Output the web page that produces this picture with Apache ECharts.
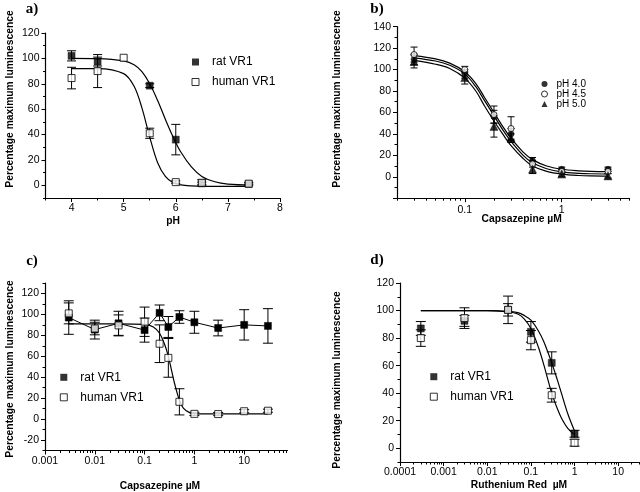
<!DOCTYPE html>
<html><head><meta charset="utf-8">
<script src="https://cdn.jsdelivr.net/npm/echarts@6/dist/echarts.min.js"></script>
<style>html,body{margin:0;padding:0;background:#fff}#chart{width:640px;height:492px}</style>
</head><body><div id="chart"></div>
<script>
// ---------- Panel a (pH) ----------
const aPh = [4, 4.5, 5, 5.5, 6, 6.5, 7.4];
const aRat = [102, 97.5, null, 78.5, 36, 1.5, 1];
const aRatErr = [4, 3.5, null, 1.5, 12, 1, 0.8];
const aHuman = [84.5, 90, 100.5, 41, 2.5, 2, 1.3];
const aHumanErr = [8.5, 13, 0, 4, 1, 2.5, 1];
const aFitPh = [4.0, 4.5, 5.0, 5.2, 5.35, 5.5, 5.65, 5.8, 5.95, 6.1, 6.3, 6.5, 6.75, 7.0, 7.45];
const aRatFit = [100, 99.8, 98, 95, 89.5, 80, 67, 52, 38, 26, 14.5, 7, 2.8, 1, 0.2];
const aHumanFit = [92, 92, 88, 78, 61, 38, 18, 7, 2, 0.3, -0.5, -0.8, -0.8, -0.8, -0.8];
const aXTicks = [4, 5, 6, 7, 8];
const aYTicks = [0, 20, 40, 60, 80, 100, 120];

// ---------- Panel b (capsazepine at three pH) ----------
const bConc = [0.03, 0.1, 0.2, 0.3, 0.5, 1, 3];
const bPh40 = [109.5, 96, 56, 40, 15, 7, 7];
const bPh40Err = [5, 4, 6, 5, 3, 2, 2];
const bPh45 = [114, 100, 58, 45, 12, 5, 5];
const bPh45Err = [7, 3, 8, 11, 3, 2, 2];
const bPh50 = [107.5, 92.5, 47, 36, 7, 2.5, 0.8];
const bPh50Err = [6, 6, 10, 4, 4, 2, 2];
const bFitConc = [0.03, 0.05, 0.07, 0.1, 0.13, 0.16, 0.2, 0.25, 0.3, 0.4, 0.5, 0.7, 1, 1.5, 2, 3];
const bFitTop = [113, 110, 106, 98, 87, 74, 60, 46, 36, 23, 16, 10, 7, 5.5, 5, 4.8];
const bFitMid = [111, 108, 104, 96, 84, 71, 57, 43, 33, 20, 13, 7.5, 4.5, 3.2, 2.8, 2.6];
const bFitLow = [108.5, 105, 101, 92, 80, 66, 52, 39, 29, 17, 10, 5, 2.5, 1.2, 0.8, 0.6];
const bXTickVals = [0.1, 1];
const bXTickLabels = ['0.1', '1'];
const bYTicks = [0, 20, 40, 60, 80, 100, 120, 140];

// ---------- Panel c (capsazepine, rat vs human) ----------
const cConc = [0.003, 0.01, 0.03, 0.1, 0.2, 0.3, 0.5, 1, 3, 10, 30];
const cRat = [97, 85.5, 91.5, 85, 101.5, 88, 97.5, 92.5, 87, 90, 89];
const cRatErr = [16, 9, 11.5, 11.5, 7.5, 10, 6, 10.5, 7.5, 14.5, 16.5];
const cHuman = [101, 86.5, 89.5, 93, 72, 58.5, 16.5, 5, 4.8, 7.5, 8];
const cHumanErr = [10, 6, 10, 14, 18, 18.5, 12.5, 1.5, 1.5, 1.5, 1.5];
const cFitConc = [0.003, 0.01, 0.03, 0.1, 0.15, 0.2, 0.25, 0.3, 0.35, 0.4, 0.5, 0.6, 0.8, 1, 2, 3, 10, 30];
const cHumanFit = [91, 91, 91, 90.5, 88, 82, 72, 60, 46, 34, 18, 10.5, 6.2, 5.3, 5, 5, 5, 5];
const cXTickVals = [0.001, 0.01, 0.1, 1, 10];
const cXTickLabels = ['0.001', '0.01', '0.1', '1', '10'];
const cYTicks = [-20, 0, 20, 40, 60, 80, 100, 120];

// ---------- Panel d (ruthenium red) ----------
const dConc = [0.0003, 0.003, 0.03, 0.1, 0.3, 1];
const dRat = [87, 92.5, 100.5, 84.5, 62, 10.5];
const dRatErr = [5, 4, 4.5, 7.5, 8, 2.5];
const dHuman = [80, 94.5, 100.5, 78.5, 38.5, 4];
const dHumanErr = [6, 7.5, 10, 7, 5, 2.5];
const dFitConc = [0.0003, 0.001, 0.003, 0.01, 0.03, 0.05, 0.07, 0.1, 0.15, 0.2, 0.3, 0.4, 0.5, 0.7, 1];
const dRatFit = [100, 100, 100, 100, 99.5, 98.5, 96.5, 93, 85, 77, 62, 50, 40, 25, 12.5];
const dHumanFit = [100, 100, 100, 100, 99, 97.5, 94, 87, 73, 60, 40, 29, 22, 14.5, 10];
const dXTickVals = [0.0001, 0.001, 0.01, 0.1, 1, 10];
const dXTickLabels = ['0.0001', '0.001', '0.01', '0.1', '1', '10'];
const dYTicks = [0, 20, 40, 60, 80, 100, 120];

// ---------- build ----------
const FONT = '"Liberation Sans", Arial, Helvetica, sans-serif';
const SERIF = '"Liberation Serif", "Times New Roman", serif';
const lg = Math.log10;
const grids = [], xAxes = [], yAxes = [], series = [], legends = [], graphics = [];

function range(lo, hi, step) { const o = []; for (let v = lo; v <= hi + 1e-9; v += step) o.push(+v.toFixed(6)); return o; }
function logMinor(lo, hi) {
  const out = [];
  for (let k = Math.floor(lo); k <= Math.ceil(hi); k++) {
    for (let m = 2; m <= 9; m++) { const v = k + lg(m); if (v >= lo - 1e-9 && v <= hi + 1e-9) out.push(v); }
  }
  return out;
}
function logFmt(vals, labels) {
  const lv = vals.map(lg);
  return function (v) { let bi = 0; lv.forEach((x, i) => { if (Math.abs(x - v) < Math.abs(lv[bi] - v)) bi = i; }); return labels[bi]; };
}
function addAxes(gi, arr, pos, cfg) {
  const common = { gridIndex: gi, type: 'value', min: cfg.min, max: cfg.max, position: pos, splitLine: { show: false }, minorTick: { show: false } };
  arr.push(Object.assign({}, common, {
    axisLine: { show: true, onZero: false, lineStyle: { color: '#000', width: 1.2 } },
    axisTick: { show: true, inside: false, length: 4, customValues: cfg.major, lineStyle: { color: '#000', width: 1 } },
    axisLabel: { show: true, customValues: cfg.labels, formatter: cfg.fmt, color: '#000', fontSize: 10.5, fontFamily: FONT, margin: cfg.margin }
  }));
  arr.push(Object.assign({}, common, {
    axisLine: { show: false, onZero: false },
    axisTick: { show: true, inside: false, length: 2.5, customValues: cfg.minor, lineStyle: { color: '#000', width: 1 } },
    axisLabel: { show: false }
  }));
}
function panel(p, rect, xc, yc) {
  grids.push({ left: rect[0], top: rect[1], width: rect[2], height: rect[3], containLabel: false, outerBoundsMode: 'none' });
  addAxes(p, xAxes, 'bottom', xc);
  addAxes(p, yAxes, 'left', yc);
}
function errSeries(p, xs, ys, es, capW, tx) {
  const data = [];
  xs.forEach((x, i) => { if (ys[i] != null && es[i]) data.push([tx(x), ys[i] - es[i], ys[i] + es[i]]); });
  series.push({
    type: 'custom', xAxisIndex: 2 * p, yAxisIndex: 2 * p, z: 1, silent: true,
    dimensions: ['x', 'lo', 'hi'], encode: { x: 0, y: [1, 2] }, data,
    renderItem: function (params, api) {
      const x = api.value(0), lo = api.value(1), hi = api.value(2);
      const a = api.coord([x, hi]), b = api.coord([x, lo]), h = capW / 2;
      const st = { stroke: '#000', lineWidth: 1 };
      return { type: 'group', children: [
        { type: 'line', shape: { x1: a[0], y1: a[1], x2: b[0], y2: b[1] }, style: st },
        { type: 'line', shape: { x1: a[0] - h, y1: a[1], x2: a[0] + h, y2: a[1] }, style: st },
        { type: 'line', shape: { x1: b[0] - h, y1: b[1], x2: b[0] + h, y2: b[1] }, style: st }
      ] };
    }
  });
}
function fitSeries(p, xs, ys, tx) {
  series.push({ type: 'line', xAxisIndex: 2 * p, yAxisIndex: 2 * p, z: 2, silent: true, showSymbol: false, smooth: 0.35,
    lineStyle: { color: '#000', width: 1.2 }, data: xs.map((x, i) => [tx(x), ys[i]]) });
}
function pointSeries(p, name, xs, ys, symbol, filled, size, tx, line) {
  const d = []; xs.forEach((x, i) => { if (ys[i] != null) d.push([tx(x), ys[i]]); });
  series.push({ type: line ? 'line' : 'scatter', name, xAxisIndex: 2 * p, yAxisIndex: 2 * p, z: 3, silent: true,
    symbol, symbolSize: size, showSymbol: true,
    lineStyle: { color: '#000', width: 1 },
    itemStyle: filled ? { color: '#000', borderColor: '#000', borderWidth: 0.5 } : { color: '#fff', borderColor: '#000', borderWidth: 1 },
    data: d });
}
const id = v => v;
const linFmt = v => String(v);

// Panel a
panel(0, [45.5, 33, 234.5, 165],
  { min: 3.5, max: 8, major: aXTicks, labels: aXTicks, minor: range(3.5, 7.5, 1), fmt: linFmt, margin: 5 },
  { min: -10, max: 120, major: aYTicks, labels: aYTicks, minor: range(-10, 110, 20), fmt: linFmt, margin: 6 });
errSeries(0, aPh, aRat, aRatErr, 9, id);
errSeries(0, aPh, aHuman, aHumanErr, 9, id);
fitSeries(0, aFitPh, aRatFit, id);
fitSeries(0, aFitPh, aHumanFit, id);
pointSeries(0, 'rat VR1', aPh, aRat, 'rect', true, 7, id);
pointSeries(0, 'human VR1', aPh, aHuman, 'rect', false, 7, id);

// Panel b
const bMin = lg(0.02), bMax = lg(5);
panel(1, [397, 26.7, 232.5, 171.5],
  { min: bMin, max: bMax, major: bXTickVals.map(lg), labels: bXTickVals.map(lg), minor: logMinor(bMin, bMax), fmt: logFmt(bXTickVals, bXTickLabels), margin: 6 },
  { min: -20, max: 140, major: range(-20, 140, 20), labels: bYTicks, minor: range(-10, 130, 20), fmt: linFmt, margin: 6 });
errSeries(1, bConc, bPh40, bPh40Err, 7, lg);
errSeries(1, bConc, bPh45, bPh45Err, 7, lg);
errSeries(1, bConc, bPh50, bPh50Err, 7, lg);
fitSeries(1, bFitConc, bFitTop, lg);
fitSeries(1, bFitConc, bFitMid, lg);
fitSeries(1, bFitConc, bFitLow, lg);
pointSeries(1, 'pH 4.0', bConc, bPh40, 'circle', true, 6, lg);
pointSeries(1, 'pH 4.5', bConc, bPh45, 'circle', false, 6, lg);
pointSeries(1, 'pH 5.0', bConc, bPh50, 'triangle', true, 8, lg);

// Panel c
const cMin = lg(0.001), cMax = 1.87;
panel(2, [45, 283, 242.5, 167.5],
  { min: cMin, max: cMax, major: cXTickVals.map(lg), labels: cXTickVals.map(lg), minor: logMinor(cMin, cMax), fmt: logFmt(cXTickVals, cXTickLabels), margin: 5 },
  { min: -30, max: 130, major: cYTicks, labels: cYTicks, minor: range(-30, 130, 20), fmt: linFmt, margin: 6 });
errSeries(2, cConc, cRat, cRatErr, 10, lg);
errSeries(2, cConc, cHuman, cHumanErr, 10, lg);
fitSeries(2, cFitConc, cHumanFit, lg);
pointSeries(2, 'rat VR1', cConc, cRat, 'rect', true, 7, lg, true);
pointSeries(2, 'human VR1', cConc, cHuman, 'rect', false, 7, lg);

// Panel d
const dMin = lg(0.0001), dMax = 1.5;
panel(3, [400, 283, 240, 179],
  { min: dMin, max: dMax, major: dXTickVals.map(lg), labels: dXTickVals.map(lg), minor: logMinor(dMin, dMax), fmt: logFmt(dXTickVals, dXTickLabels), margin: 5 },
  { min: -10, max: 120, major: dYTicks, labels: dYTicks, minor: range(-10, 110, 20), fmt: linFmt, margin: 6 });
errSeries(3, dConc, dRat, dRatErr, 10, lg);
errSeries(3, dConc, dHuman, dHumanErr, 10, lg);
fitSeries(3, dFitConc, dRatFit, lg);
fitSeries(3, dFitConc, dHumanFit, lg);
pointSeries(3, 'rat VR1', dConc, dRat, 'rect', true, 7, lg);
pointSeries(3, 'human VR1', dConc, dHuman, 'rect', false, 7, lg);

// Legends
const ratItem = { name: 'rat VR1', icon: 'rect', itemStyle: { color: '#000', borderColor: '#000', borderWidth: 0 } };
const humItem = { name: 'human VR1', icon: 'rect', itemStyle: { color: '#fff', borderColor: '#000', borderWidth: 1 } };
function vrLegend(left, top) {
  return { data: [ratItem, humItem], left, top, orient: 'vertical', itemWidth: 7, itemHeight: 7, itemGap: 6,
    selectedMode: false, padding: 0, textStyle: { fontSize: 12, color: '#000', fontFamily: FONT, lineHeight: 14, padding: [0, 0, 0, 8] } };
}
legends.push(vrLegend(191.5, 55));
legends.push(vrLegend(59.8, 370.3));
legends.push(vrLegend(429.8, 369.7));
legends.push({ data: [
    { name: 'pH 4.0', icon: 'circle', itemStyle: { color: '#000', borderWidth: 0 } },
    { name: 'pH 4.5', icon: 'circle', itemStyle: { color: '#fff', borderColor: '#000', borderWidth: 1 } },
    { name: 'pH 5.0', icon: 'triangle', itemStyle: { color: '#000', borderWidth: 0 } } ],
  left: 541, top: 79, orient: 'vertical', itemWidth: 6, itemHeight: 6, itemGap: 0, selectedMode: false, padding: 0,
  textStyle: { fontSize: 10, color: '#000', fontFamily: FONT, lineHeight: 9.2, padding: [0, 0, 0, 4] } });

// Titles
function txt(text, x, y, font, rot) {
  graphics.push({ type: 'text', x, y, rotation: rot || 0, silent: true,
    style: { text, font, fill: '#000', align: 'center', verticalAlign: 'middle' } });
}
const TB = 'bold 10.3px ' + FONT;
const TL = 'bold 15px ' + SERIF;
txt('a)', 32, 9.5, TL); txt('b)', 377, 9.5, TL); txt('c)', 32, 261.5, TL); txt('d)', 377, 260.5, TL);
txt('Percentage maximum luminescence', 10, 99, TB, Math.PI / 2);
txt('Percentage maximum luminescence', 336.7, 99, TB, Math.PI / 2);
txt('Percentage maximum luminescence', 10, 369, TB, Math.PI / 2);
txt('Percentage maximum luminescence', 336.7, 380, TB, Math.PI / 2);
txt('pH', 173, 221, TB);
txt('Capsazepine µM', 521.7, 219, TB);
txt('Capsazepine µM', 160, 486.5, TB);
txt('Ruthenium Red  µM', 519, 484.8, TB);

const chart = echarts.init(document.getElementById('chart'), null, { renderer: 'canvas' });
chart.setOption({
  animation: false, backgroundColor: '#fff',
  grid: grids, xAxis: xAxes, yAxis: yAxes, series, legend: legends,
  graphic: { elements: graphics }, tooltip: { show: false }
});
</script></body></html>
